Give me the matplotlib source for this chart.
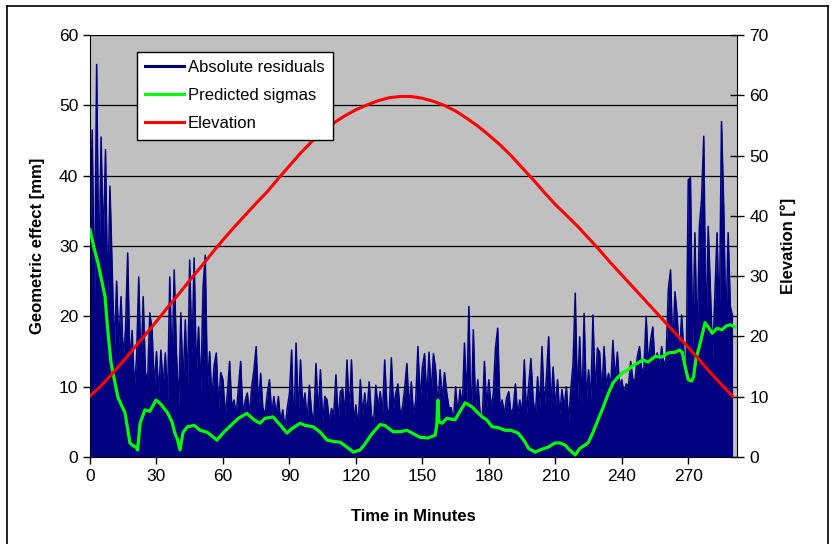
import numpy as np
import matplotlib
matplotlib.use("Agg")
import matplotlib.pyplot as plt
from matplotlib.lines import Line2D

plt.rcParams['font.family'] = ['Liberation Sans', 'DejaVu Sans']

# absolute residuals [mm], one value per minute (t = 0 .. 290)
resid = [
    30, 46.5, 20, 55.8, 25, 45.5, 30, 43.7, 22, 38.5,
    27, 15, 25, 16, 22.8, 14, 18, 29, 13, 18,
    10, 14, 25.6, 12, 22.8, 12, 11, 20.5, 18, 10,
    15, 9, 15.2, 10, 14.8, 8, 25.6, 12, 26.6, 15,
    7, 20.5, 10, 19.5, 10, 28, 14, 28.3, 12, 18.5,
    9, 24, 28.7, 10, 15, 8, 13, 14.8, 7, 12,
    11, 6, 9, 13.6, 7, 8.1, 6, 10, 13.6, 6,
    8, 9.1, 6, 10, 12.4, 15.7, 7, 11.9, 7, 6,
    9, 11, 6, 8.6, 6, 8.6, 5, 6.7, 4, 6.9,
    9, 15.2, 3, 16.2, 6, 13.8, 7, 9.1, 5, 10.2,
    6.4, 5, 13.3, 6, 12.4, 5, 8.6, 8.1, 5, 6.9,
    6, 11.7, 5, 9.3, 9.7, 6, 13.8, 6, 13.8, 5,
    7.4, 4, 11, 6, 9.1, 6, 10.7, 6, 5, 10.2,
    7, 9.3, 6, 13.8, 7, 6, 14.1, 7, 9.1, 10.4,
    6, 7, 9.7, 13.3, 7, 10.7, 6, 8, 15.7, 8,
    12.8, 14.7, 8, 14.9, 9, 14.7, 12.4, 7, 12.4, 8,
    12, 9.1, 7, 7, 5, 10, 6, 9.6, 7, 16.2,
    8, 21.4, 4, 18.1, 7, 11, 6.4, 5, 13.6, 7,
    11, 7, 9, 15.5, 18.3, 7, 8.1, 6, 8.4, 9.3,
    6, 7, 10.4, 6, 8.1, 6, 13.8, 6, 10.2, 14,
    8.1, 6, 11.4, 7, 15.7, 7, 11.4, 17.1, 7, 12.8,
    7, 11, 6, 9.6, 7, 10, 5, 9.6, 13.3, 23.3,
    8, 17.1, 7, 20.4, 8, 12.4, 8, 20.2, 9, 15.5,
    14.9, 9, 15.7, 10, 11.9, 10, 16.6, 11, 14.9, 10,
    11, 9, 10.4, 10, 13.6, 11, 11, 14.3, 15.7, 12,
    12.8, 20, 13, 16.6, 18.5, 13, 14.8, 13, 15.7, 13,
    14, 23.8, 26.6, 15, 23.5, 20, 14, 20.2, 15, 10,
    39.4, 39.7, 15, 31.9, 16, 32.8, 36.6, 45.6, 17, 32.8,
    23.8, 14, 23, 31.9, 18, 47.7, 35.6, 18, 31.9, 21.4,
    20]
resid_t = np.arange(len(resid))

# predicted sigmas [mm]
sigma_t = [0, 2, 3.6, 5, 6.8, 8, 9.5, 11, 12.6, 14, 15.8, 17, 18, 19.5, 20.8, 21.5,
           22.6, 24.8, 27, 29.8, 32, 35, 37, 38.3, 39.5, 40.6, 42, 44, 47, 49.7,
           53, 57.3, 60, 64.6, 67, 70.8, 74, 76.7, 79, 82.6, 86, 88.9, 91, 94.8,
           97, 100.7, 104, 107, 110, 112.9, 116, 118.9, 121.9, 124, 127, 130.9,
           133, 136.8, 140, 143, 146, 149, 152.6, 155.8, 156.5, 157, 157.5, 158.9,
           161, 164.8, 167, 169.3, 170.5, 172.5, 175, 177, 179, 181.5, 184, 187.4,
           190, 193.2, 196, 198, 200.9, 203, 206.8, 209.9, 212, 214.4, 216.5, 219,
           221, 224.8, 227, 229.3, 231.5, 233.9, 236, 238.4, 240.5, 242.9, 245,
           247.4, 249.5, 251.9, 255, 258, 261, 264.1, 266, 267.3, 268.5, 270,
           271.5, 272.4, 273.5, 274.6, 276, 277.6, 279, 280.8, 283, 285.3, 287,
           289, 291]
sigma = [32.3, 29.5, 27.6, 25.5, 22.8, 18.1, 13.4, 11, 8.5, 7.5, 6.3, 4, 2.0, 1.6, 1.4, 1.0,
         4.8, 6.7, 6.5, 8.1, 7.5, 6.3, 5, 3.4, 2.5, 1.0, 3.5, 4.3, 4.5, 3.8,
         3.5, 2.4, 3.4, 4.8, 5.5, 6.2, 5.3, 4.8, 5.5, 5.7, 4.5, 3.4, 4, 4.8,
         4.5, 4.3, 3.5, 2.4, 2.2, 2.1, 1.4, 0.7, 1.0, 1.8, 3.2, 4.6,
         4.5, 3.6, 3.6, 3.8, 3.3, 2.8, 2.7, 3.1, 4.5, 8.1, 5.0, 4.8,
         5.5, 5.3, 6.5, 7.7, 7.5, 7.1, 6.3, 5.7, 5.3, 4.3, 4.2, 3.8,
         3.8, 3.4, 2.3, 1.2, 0.7, 1.0, 1.4, 2.0, 2.0, 1.7, 1.0, 0.3,
         1.2, 2.0, 3.5, 5.3, 7.0, 9.0, 10.5, 11.4, 12.0, 12.4, 13.0,
         13.4, 13.8, 13.5, 14.3, 14.2, 14.8, 14.9, 15.2, 14.9, 13.0, 11.0,
         10.8, 11.4, 14.0, 15.2, 17.0, 19.1, 18.5, 17.6, 18.3, 18.1, 18.6,
         18.8, 18.5]

# elevation [deg], every 5 minutes
elev_t = list(range(0, 295, 5))
elev = [10.1, 11.8, 13.8, 15.9, 18.1, 20.3, 22.5, 24.8, 27.0, 29.3,
        31.5, 33.8, 36.0, 38.1, 40.1, 42.1, 44.0, 46.2, 48.3, 50.4,
        52.3, 54.0, 55.4, 56.6, 57.6, 58.4, 59.1, 59.6, 59.8, 59.8,
        59.5, 59.0, 58.3, 57.4, 56.2, 54.9, 53.4, 51.8, 50.0, 48.0,
        46.0, 43.9, 41.9, 40.1, 38.3, 36.3, 34.3, 32.2, 30.2, 28.2,
        26.2, 24.2, 22.2, 20.2, 18.2, 16.1, 14.0, 12.0, 10.1]

navy = '#000080'

fig = plt.figure(figsize=(8.35, 5.44), dpi=100)
ax = fig.add_axes([90/835, 1-457/544, (737-90)/835, (457-35)/544])
ax.set_facecolor('#C0C0C0')

# dense residual trace: the trace itself plus the area it covers down to zero
ax.fill_between(resid_t, resid, 0, color=navy, lw=0, zorder=2)
ax.plot(resid_t, resid, color=navy, lw=1.1, zorder=2)
ax.plot(sigma_t, sigma, color='#00FF00', lw=2.3, zorder=3)

ax.set_xlim(0, 292)
ax.set_ylim(0, 60)
ax.set_xticks(range(0, 271, 30))
ax.set_yticks(range(0, 61, 10))
ax.grid(axis='y', color='black', lw=0.9)
ax.set_axisbelow(True)
ax.tick_params(labelsize=12.5, length=5, width=1, color='black')
ax.spines['top'].set_visible(False)
ax.spines['right'].set_visible(False)
ax.set_xlabel('Time in Minutes', fontsize=12, fontweight='bold', labelpad=18)
ax.set_ylabel('Geometric effect [mm]', fontsize=12, fontweight='bold', labelpad=10)

ax2 = ax.twinx()
ax2.plot(elev_t, elev, color='#FF0000', lw=2.2)
ax2.set_ylim(0, 70)
ax2.set_yticks(range(0, 71, 10))
ax2.tick_params(labelsize=12.5, direction='inout', length=10, width=1, pad=4)
for s in ['top', 'left', 'bottom']:
    ax2.spines[s].set_visible(False)
ax2.set_ylabel('Elevation [°]', fontsize=12, fontweight='bold', rotation=90, labelpad=8)

handles = [Line2D([], [], color=navy, lw=2.2), Line2D([], [], color='#00FF00', lw=2.2),
           Line2D([], [], color='#FF0000', lw=2.2)]
labels = ['Absolute residuals', 'Predicted sigmas', 'Elevation']
leg = ax2.legend(handles, labels, loc='upper left', bbox_to_anchor=(137/835, 1-52/544),
                 bbox_transform=fig.transFigure, fontsize=12, frameon=True, fancybox=False,
                 handlelength=2.3, handletextpad=0.25, borderpad=0.5, labelspacing=0.78,
                 borderaxespad=0)
leg.get_frame().set_edgecolor('black')
leg.get_frame().set_linewidth(1.0)
leg.get_frame().set_alpha(1)

# outer chart frame
for xs, ys in [([7/835, 7/835], [0, 1-6/544]), ([7/835, 828/835], [1-6/544, 1-6/544]),
               ([828/835, 828/835], [0, 1-6/544])]:
    fig.add_artist(Line2D(xs, ys, color='black', lw=1.2, transform=fig.transFigure))

fig.savefig('out.png', dpi=100)
